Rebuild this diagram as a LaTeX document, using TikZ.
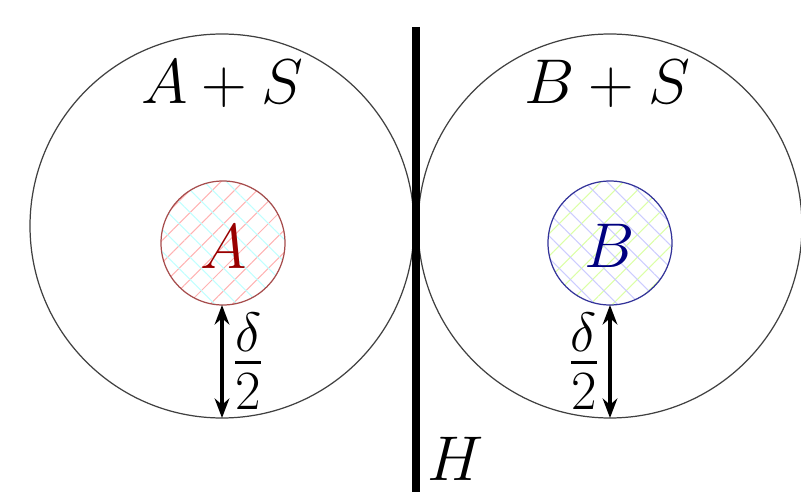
\RequirePackage{fix-cm}
\documentclass[tikz,border=0pt]{standalone}
\usepackage{amsmath, amssymb}
\usepackage{tikz}
\usetikzlibrary{arrows.meta, patterns.meta}

\begin{document}
\begin{tikzpicture}[>=Stealth, font=\fontsize{36}{40}\selectfont]
  \useasboundingbox (0,0) rectangle (16.02,9.84);
  \coordinate (cA) at (4.44,5.32);
  \coordinate (cB) at (12.2,5.32);
  \coordinate (sA) at (4.46,4.98);
  \coordinate (sB) at (12.2,4.98);
  % outer regions
  \draw[line width=0.7pt, black!75] (cA) circle (3.84);
  \draw[line width=0.7pt, black!75] (cB) circle (3.84);
  % hatched sets
  \fill[pattern={Lines[angle=45, distance=9pt, line width=0.6pt]}, pattern color=red!30] (sA) circle (1.24);
  \fill[pattern={Lines[angle=-45, distance=9pt, line width=0.6pt]}, pattern color=cyan!25] (sA) circle (1.24);
  \draw[line width=0.7pt, red!50!black!70] (sA) circle (1.24);
  \fill[pattern={Lines[angle=45, distance=9pt, line width=0.6pt]}, pattern color=yellow!60!green!35] (sB) circle (1.24);
  \fill[pattern={Lines[angle=-45, distance=9pt, line width=0.6pt]}, pattern color=blue!20] (sB) circle (1.24);
  \draw[line width=0.7pt, blue!50!black!80] (sB) circle (1.24);
  \node[text=red!60!black] (labA) at (4.48,4.9) {$A$};
  \node[text=blue!50!black] (labB) at (12.2,4.92) {$B$};
  \node (labAS) at (4.44,8.16) {$A+S$};
  \node (labBS) at (12.14,8.16) {$B+S$};
  % separating line
  \draw[line width=4.5pt] (8.32,9.3) -- (8.32,0);
  \node (labH) at (9.12,0.66) {$H$};
  % distances
  \coordinate (topA) at (4.44,3.74);
  \coordinate (botA) at (4.44,1.48);
  \coordinate (topB) at (12.2,3.74);
  \coordinate (botB) at (12.2,1.48);
  \draw[<->, line width=1.8pt] (topA) -- (botA) node[midway, right=2pt, font=\fontsize{45}{50}\selectfont]{$\frac{\delta}{2}$};
  \draw[<->, line width=1.8pt] (topB) -- (botB) node[midway, left=2pt, font=\fontsize{45}{50}\selectfont]{$\frac{\delta}{2}$};
\end{tikzpicture}
\end{document}
